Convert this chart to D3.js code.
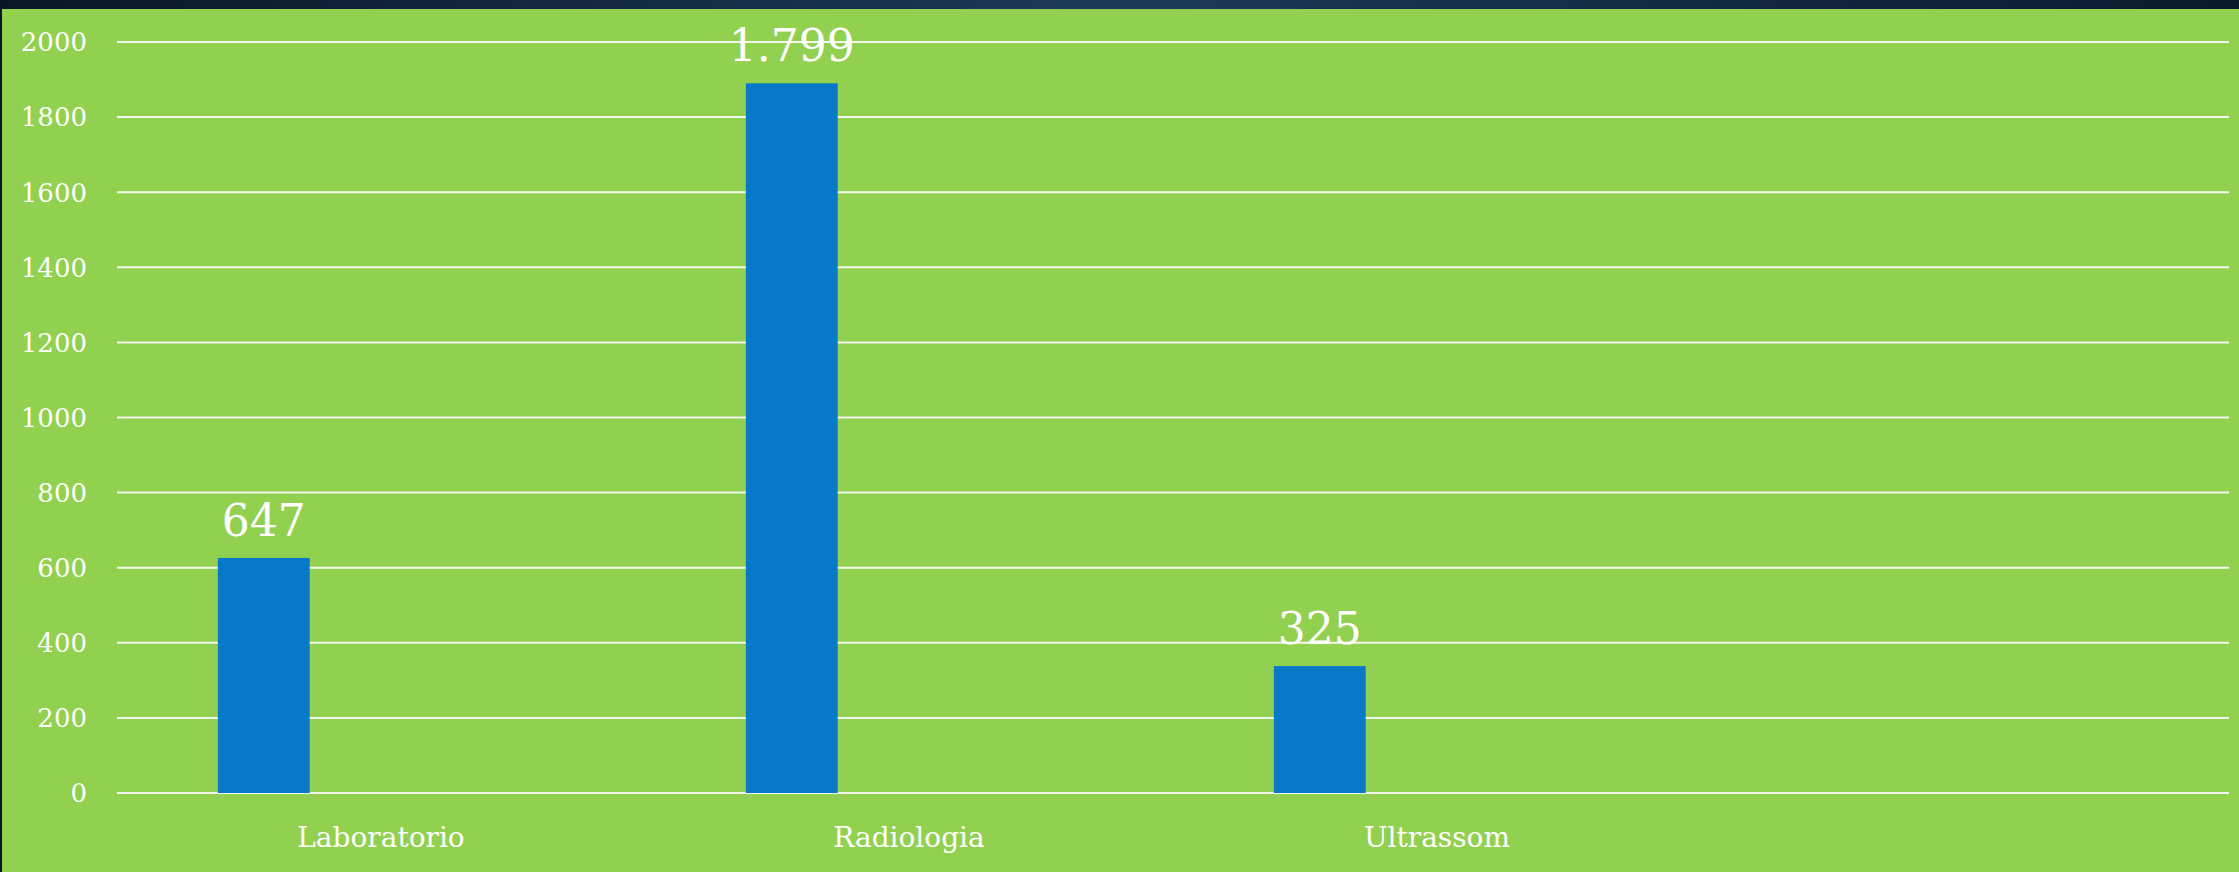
<!DOCTYPE html>
<html>
<head>
<meta charset="utf-8">
<script src="https://cdn.jsdelivr.net/npm/d3@7"></script>
<style>
  html, body { margin: 0; padding: 0; background: #0b1a2b; }
  svg { display: block; }
</style>
</head>
<body>
<svg width="2239" height="872"></svg>
<script>
// chart data
var categories = ["Laboratorio", "Radiologia", "Ultrassom", ""];
var barValues = [626, 1890, 338];          // bar heights as drawn
var valueLabels = ["647", "1.799", "325"]; // data labels as printed
var yTicks = [0, 200, 400, 600, 800, 1000, 1200, 1400, 1600, 1800, 2000];

var svg = d3.select("svg"),
    width = +svg.attr("width"),
    height = +svg.attr("height"),
    margin = {top: 42, right: 10, bottom: 79, left: 117},
    innerW = width - margin.left - margin.right,
    innerH = height - margin.top - margin.bottom;

// dark slide frame behind the green plot area
var defs = svg.append("defs");
var grad = defs.append("linearGradient").attr("id", "frame").attr("x1", 0).attr("x2", 1);
grad.append("stop").attr("offset", "0%").attr("stop-color", "#0a1626");
grad.append("stop").attr("offset", "50%").attr("stop-color", "#1c3a58");
grad.append("stop").attr("offset", "100%").attr("stop-color", "#0a1a2c");
svg.append("rect").attr("width", width).attr("height", height).attr("fill", "url(#frame)");
svg.append("rect")
    .attr("x", 2).attr("y", 9)
    .attr("width", width - 2).attr("height", height - 9)
    .attr("fill", "#92d050");

var g = svg.append("g").attr("transform", "translate(" + margin.left + "," + margin.top + ")");

var x = d3.scaleBand()
    .domain(categories.map(function(d, i) { return i; }))
    .range([0, innerW]);

var y = d3.scaleLinear()
    .domain([0, 2000])
    .range([innerH, 0]);

// gridlines
g.append("g")
  .selectAll("line")
  .data(yTicks)
  .enter().append("line")
    .attr("x1", 0)
    .attr("x2", innerW)
    .attr("y1", function(d) { return y(d); })
    .attr("y2", function(d) { return y(d); })
    .attr("stroke", "#f4f7ee")
    .attr("stroke-width", 2);

// y tick labels
g.append("g")
  .selectAll("text")
  .data(yTicks)
  .enter().append("text")
    .attr("x", -30)
    .attr("y", function(d) { return y(d); })
    .attr("dy", "0.36em")
    .attr("text-anchor", "end")
    .attr("fill", "#fff")
    .style("font-family", "Rockwell, 'DejaVu Serif', serif")
    .style("font-size", "26px")
    .text(function(d) { return d; });

// bars sit in the left part of each category band
var barOffset = 0.191, barWidth = 0.174;
g.append("g")
  .selectAll("rect")
  .data(barValues)
  .enter().append("rect")
    .attr("x", function(d, i) { return x(i) + x.bandwidth() * barOffset; })
    .attr("width", x.bandwidth() * barWidth)
    .attr("y", function(d) { return y(d); })
    .attr("height", function(d) { return y(0) - y(d); })
    .attr("fill", "#0879c9");

// data labels
g.append("g")
  .selectAll("text")
  .data(barValues)
  .enter().append("text")
    .attr("x", function(d, i) { return x(i) + x.bandwidth() * (barOffset + barWidth / 2); })
    .attr("y", function(d) { return y(d) - 22; })
    .attr("text-anchor", "middle")
    .attr("fill", "#fff")
    .style("font-family", "Rockwell, 'DejaVu Serif', serif")
    .style("font-size", "44px")
    .text(function(d, i) { return valueLabels[i]; });

// category labels
g.append("g")
  .selectAll("text")
  .data(categories)
  .enter().append("text")
    .attr("x", function(d, i) { return x(i) + x.bandwidth() / 2; })
    .attr("y", innerH + 54)
    .attr("text-anchor", "middle")
    .attr("fill", "#fff")
    .style("font-family", "Rockwell, 'DejaVu Serif', serif")
    .style("font-size", "28px")
    .text(function(d) { return d; });
</script>
</body>
</html>
